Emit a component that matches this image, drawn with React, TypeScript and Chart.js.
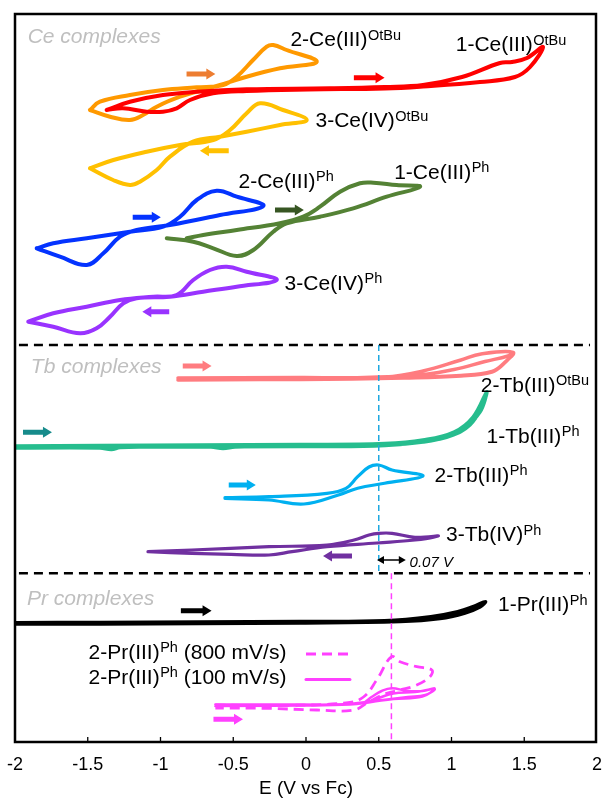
import React, { useEffect, useRef } from "react";
import { Chart, registerables } from "chart.js";
Chart.register(...registerables);

const FONT = '"Liberation Sans", Arial, Helvetica, sans-serif';

// x-axis tick values (E, V vs Fc)
const xTicks = [-2, -1.5, -1, -0.5, 0, 0.5, 1, 1.5, 2];

// Each curve: [E (V vs Fc), current + vertical offset (a.u.)]
type Pt = [number, number];

const ce1OtBu: Pt[] = [[-1.37,632],[-1.21,640.3],[-0.983,647],[-0.751,650.3],[-0.408,652.7],[0.165,653.7],[0.543,655],[0.804,657],[1.072,665],[1.333,679],[1.416,680],[1.519,684],[1.629,695],[1.54,675],[1.436,665],[1.196,660],[0.804,655.5],[0.543,653.5],[0.014,652.5],[-0.408,651],[-0.639,648.7],[-0.797,642],[-0.889,633.7],[-0.983,630.3],[-1.095,630.3],[-1.258,633.7],[-1.37,632]];
const ce2OtBu: Pt[] = [[-1.485,632],[-1.416,640.3],[-1.21,647],[-0.983,652],[-0.751,654.7],[-0.57,657],[-0.476,665.3],[-0.364,682],[-0.27,695.3],[-0.225,697],[-0.133,692],[0.074,680.3],[-0.179,673.7],[-0.408,665.3],[-0.591,657],[-0.866,645.3],[-1.026,635.3],[-1.12,627],[-1.21,622],[-1.347,625.3],[-1.485,632]];
const ce3OtBu: Pt[] = [[-1.485,573.7],[-1.324,582],[-1.095,590.3],[-0.866,597],[-0.637,602],[-0.522,612],[-0.408,628.7],[-0.316,638.7],[-0.158,632],[0.005,622],[-0.179,617],[-0.408,610.3],[-0.591,605.3],[-0.777,600.3],[-0.935,585.3],[-1.026,572],[-1.141,560.3],[-1.21,557],[-1.326,562],[-1.485,573.7]];
const ce2Ph: Pt[] = [[-1.851,493.7],[-1.737,498.7],[-1.507,503.7],[-1.21,510.3],[-0.981,515.3],[-0.866,525.3],[-0.751,542],[-0.614,551.3],[-0.476,545.3],[-0.293,536],[-0.591,527],[-0.935,517],[-1.164,512],[-1.278,505.3],[-1.393,488.7],[-1.507,477],[-1.691,485.3],[-1.851,493.7]];
const ce1Ph: Pt[] = [[-0.957,503.7],[-0.775,500.3],[-0.637,493.7],[-0.476,486],[-0.362,492],[-0.225,510.3],[-0.133,518.7],[0.096,525.3],[0.325,533.7],[0.555,545.3],[0.784,555.3],[0.623,557],[0.463,559.3],[0.371,558.7],[0.234,550.3],[0.096,535.3],[-0.019,525.3],[-0.179,518.7],[-0.476,512],[-0.706,507],[-0.82,503.7]];
const ce3Ph: Pt[] = [[-1.909,420.3],[-1.737,428.7],[-1.507,435.3],[-1.278,442],[-1.049,445.3],[-0.889,447],[-0.775,462],[-0.66,472],[-0.545,475.3],[-0.408,470.3],[-0.201,462],[-0.476,455.3],[-0.706,450.3],[-0.935,445.3],[-1.164,443.7],[-1.256,438.7],[-1.347,425.3],[-1.439,413.7],[-1.553,408.7],[-1.737,415.3],[-1.909,420.3]];
const tb2OtBu: Pt[] = [[-0.88,364],[-0.041,364.5],[0.543,365],[0.804,371],[1.065,382],[1.203,388],[1.423,389.5],[1.361,379],[1.278,370.5],[1.065,366.5],[0.674,364.5],[-0.041,363],[-0.88,362],[-0.041,363.5],[0.749,366.5],[1.017,372.5],[1.23,380.5],[1.388,386],[1.423,389],[1.361,378.5],[1.278,370],[1.065,366],[0.674,364],[-0.041,362.5],[-0.729,362.5]];
const tb1Ph: Pt[] = [[-2.0,296],[-1.416,296.5],[-0.729,297],[-0.041,297.5],[0.543,298.5],[0.804,302],[1.017,310],[1.148,325],[1.241,350],[1.216,337],[1.127,317],[0.99,306],[0.804,300],[0.543,297],[-0.041,296],[-0.488,295],[-0.57,293.5],[-0.653,295],[-1.072,295],[-1.278,294.5],[-1.337,292.5],[-1.416,294],[-2.0,294],[-1.416,295],[-0.041,296.5],[0.543,298],[0.852,302],[1.072,312],[1.182,329],[1.241,349],[1.196,330],[1.072,312],[0.921,303],[0.543,296.5],[-0.041,295.5],[-1.0,295]];
const tb2Ph: Pt[] = [[-0.557,244.3],[-0.254,245.3],[0.144,248.7],[0.275,253.7],[0.355,265.3],[0.433,275],[0.5,277],[0.591,272],[0.804,266],[0.54,258.7],[0.355,253.7],[0.223,247],[-0.014,238],[-0.254,242],[-0.557,243.7]];
const tb3Ph: Pt[] = [[-1.086,190.3],[-0.784,192],[-0.254,195.3],[0.144,197],[0.33,202],[0.433,207],[0.5,208.7],[0.591,208.7],[0.749,204.7],[0.911,206],[0.749,202],[0.488,199],[0.144,195.3],[-0.096,190.3],[-0.254,187],[-0.515,187.7],[-0.784,188.7],[-1.086,190.3]];
const pr1Ph: Pt[] = [[-1.997,119.3],[-1.416,119.5],[-0.729,120],[-0.041,120.5],[0.54,121.3],[0.858,125.3],[1.043,130.3],[1.148,135.3],[1.233,140.3],[1.196,135],[1.093,129],[0.921,123.5],[0.646,120.5],[-0.041,119],[-0.729,118.5],[-1.416,118],[-1.997,118]];
const pr2Ph800: Pt[] = [[-0.623,37],[-0.254,36.5],[0.275,39],[0.395,45],[0.486,62],[0.588,85.3],[0.646,80.3],[0.761,75.3],[0.865,72],[0.852,65.3],[0.761,57],[0.646,52],[0.555,48.7],[0.433,40.3],[0.33,32],[0.074,32],[-0.279,33.7],[-0.623,34]];
const pr2Ph100: Pt[] = [[-0.623,37.5],[-0.041,37.5],[0.381,38.5],[0.45,45],[0.52,51],[0.59,53.7],[0.70,51],[0.80,51],[0.884,53.5],[0.80,45.5],[0.60,43],[0.45,40],[0.30,37.5],[-0.041,36.5],[-0.623,36],[-0.041,37],[0.40,39],[0.50,44],[0.60,48.5],[0.75,50],[0.884,53],[0.82,47],[0.70,45],[0.50,41.5],[0.30,38]];

// reference lines and legend samples
const tbRefLine: Pt[] = [[0.5,397],[0.5,168.7]];
const prRefLine: Pt[] = [[0.587,168.7],[0.587,0]];
const sepTb: Pt[] = [[-1.973,397],[1.952,397]];
const sepPr: Pt[] = [[-1.973,168.7],[1.952,168.7]];
const legend800: Pt[] = [[0,88],[0.289,88]];
const legend100: Pt[] = [[0,62.5],[0.302,62.5]];

// scan-direction arrows: from (tail E) -> to (head E), at current y
const arrowFrom = [-0.821, 0.329, -0.531, -1.191, -0.213, -0.94, -0.847, -1.945, -0.531, 0.316, -0.86, -0.636];
const arrowTo   = [-0.623, 0.540, -0.729, -0.998, -0.015, -1.125, -0.649, -1.746, -0.345, 0.117, -0.649, -0.433];
const arrowY    = [668, 664.3, 591.3, 524.7, 532, 430.3, 376, 309.7, 257, 186, 131.3, 22.7];
const arrowColors = ["#ED7D31", "#FF0000", "#FFC000", "#0433FF", "#375623", "#9933FF", "#FF7C80", "#168B8B", "#00B0F0", "#7030A0", "#000000", "#FF40FF"];

// curve labels: main text, superscript, tail, left E, baseline y
const labelMain = ["2-Ce(III)", "1-Ce(III)", "3-Ce(IV)", "2-Ce(III)", "1-Ce(III)", "3-Ce(IV)", "2-Tb(III)", "1-Tb(III)", "2-Tb(III)", "3-Tb(IV)", "1-Pr(III)", "2-Pr(III)", "2-Pr(III)"];
const labelSup = ["OtBu", "OtBu", "OtBu", "Ph", "Ph", "Ph", "OtBu", "Ph", "Ph", "Ph", "Ph", "Ph", "Ph"];
const labelTail = ["", "", "", "", "", "", "", "", "", "", "", " (800 mV/s)", " (100 mV/s)"];
const labelX = [-0.107, 1.029, 0.065, -0.464, 0.606, -0.147, 1.201, 1.241, 0.884, 0.963, 1.32, -1.495, -1.495];
const labelY = [695.8, 690.8, 615, 554.2, 563.5, 452.5, 350.2, 299.2, 260.2, 200.8, 130.8, 83.5, 58.2];

const groupTitles = ["Ce complexes", "Tb complexes", "Pr complexes"];
const groupX = [-1.913, -1.891, -1.918];
const groupY = [699.5, 368.8, 137.2];

const deltaText = "0.07 V";
const deltaFrom = 0.488;
const deltaTo = 0.686;
const deltaY = 182;
const deltaTextX = 0.712;
const deltaTextY = 175.3;

const seriesStyle: { data: Pt[]; color: string; width: number; dash?: number[]; tension?: number }[] = [
  { data: tbRefLine, color: "#1FA8E0", width: 1.5, dash: [6, 4], tension: 0 },
  { data: prRefLine, color: "#FF40FF", width: 1.5, dash: [6, 4], tension: 0 },
  { data: ce1OtBu, color: "#FF0000", width: 4 },
  { data: ce2OtBu, color: "#FF9900", width: 4 },
  { data: ce3OtBu, color: "#FFC000", width: 4 },
  { data: ce2Ph, color: "#0433FF", width: 4 },
  { data: ce1Ph, color: "#548235", width: 4 },
  { data: ce3Ph, color: "#9933FF", width: 4 },
  { data: tb2OtBu, color: "#FF7C80", width: 3.5 },
  { data: tb1Ph, color: "#26BD8E", width: 3.5 },
  { data: tb2Ph, color: "#00B0F0", width: 3.2 },
  { data: tb3Ph, color: "#7030A0", width: 3.2 },
  { data: pr1Ph, color: "#000000", width: 3.5 },
  { data: pr2Ph100, color: "#FF40FF", width: 2.5 },
  { data: pr2Ph800, color: "#FF40FF", width: 2.8, dash: [10, 6] },
  { data: legend800, color: "#FF40FF", width: 3, dash: [10, 6], tension: 0 },
  { data: legend100, color: "#FF40FF", width: 3, tension: 0 },
  { data: sepTb, color: "#000000", width: 2.5, dash: [9, 6], tension: 0 },
  { data: sepPr, color: "#000000", width: 2.5, dash: [9, 6], tension: 0 },
];

function blockArrow(ctx: CanvasRenderingContext2D, from: number, to: number, y: number, color: string) {
  const dir = to > from ? 1 : -1;
  const hb = to - dir * 9;
  ctx.fillStyle = color;
  ctx.beginPath();
  ctx.moveTo(from, y - 2.5);
  ctx.lineTo(hb, y - 2.5);
  ctx.lineTo(hb, y - 5.5);
  ctx.lineTo(to, y);
  ctx.lineTo(hb, y + 5.5);
  ctx.lineTo(hb, y + 2.5);
  ctx.lineTo(from, y + 2.5);
  ctx.closePath();
  ctx.fill();
}

const decorPlugin = {
  id: "cvDecor",
  afterDraw(chart: any) {
    const { ctx, chartArea: a, scales } = chart;
    const px = (v: number) => scales.x.getPixelForValue(v);
    const py = (v: number) => scales.y.getPixelForValue(v);
    ctx.save();
    ctx.setLineDash([]);
    arrowFrom.forEach((f, i) => blockArrow(ctx, px(f), px(arrowTo[i]), py(arrowY[i]), arrowColors[i]));
    {
      const x1 = px(deltaFrom), x2 = px(deltaTo), y = py(deltaY);
      ctx.strokeStyle = "#000"; ctx.fillStyle = "#000"; ctx.lineWidth = 1.5;
      ctx.beginPath(); ctx.moveTo(x1 + 4, y); ctx.lineTo(x2 - 4, y); ctx.stroke();
      ctx.beginPath(); ctx.moveTo(x1, y); ctx.lineTo(x1 + 7, y - 4); ctx.lineTo(x1 + 7, y + 4); ctx.closePath(); ctx.fill();
      ctx.beginPath(); ctx.moveTo(x2, y); ctx.lineTo(x2 - 7, y - 4); ctx.lineTo(x2 - 7, y + 4); ctx.closePath(); ctx.fill();
      ctx.font = `italic 15px ${FONT}`;
      ctx.textAlign = "left"; ctx.textBaseline = "alphabetic";
      ctx.fillText(deltaText, px(deltaTextX), py(deltaTextY));
    }
    ctx.fillStyle = "#BFBFBF";
    ctx.font = `italic 21px ${FONT}`;
    ctx.textAlign = "left"; ctx.textBaseline = "alphabetic";
    groupTitles.forEach((t, i) => ctx.fillText(t, px(groupX[i]), py(groupY[i])));
    ctx.fillStyle = "#000";
    labelMain.forEach((m, i) => {
      const x = px(labelX[i]), y = py(labelY[i]);
      ctx.font = `21px ${FONT}`;
      ctx.fillText(m, x, y);
      const w1 = ctx.measureText(m).width;
      ctx.font = `14.5px ${FONT}`;
      ctx.fillText(labelSup[i], x + w1 + 0.5, y - 6.5);
      const w2 = ctx.measureText(labelSup[i]).width;
      if (labelTail[i]) {
        ctx.font = `21px ${FONT}`;
        ctx.fillText(labelTail[i], x + w1 + 0.5 + w2, y);
      }
    });
    ctx.strokeStyle = "#000";
    ctx.lineWidth = 2.5;
    ctx.strokeRect(a.left, a.top, a.right - a.left - 1, a.bottom - a.top);
    ctx.lineWidth = 1.3;
    xTicks.slice(1, -1).forEach((t) => {
      const x = px(t);
      ctx.beginPath(); ctx.moveTo(x, a.bottom); ctx.lineTo(x, a.bottom - 5); ctx.stroke();
    });
    ctx.restore();
  },
};

export default function App() {
  const ref = useRef<HTMLCanvasElement>(null);
  useEffect(() => {
    const chart = new Chart(ref.current as HTMLCanvasElement, {
      type: "line",
      data: {
        datasets: seriesStyle.map((s) => ({
          data: s.data.map(([x, y]) => ({ x, y })),
          borderColor: s.color,
          backgroundColor: s.color,
          borderWidth: s.width,
          borderDash: s.dash || [],
          tension: s.tension === undefined ? 0.4 : s.tension,
          pointRadius: 0,
          pointHoverRadius: 0,
          fill: false,
          borderJoinStyle: "round",
          borderCapStyle: s.dash ? "butt" : "round",
        })) as any,
      },
      options: {
        animation: false,
        responsive: false,
        devicePixelRatio: 1,
        layout: { padding: { left: 15, right: 6, top: 14, bottom: 0 } },
        plugins: { legend: { display: false }, tooltip: { enabled: false } },
        events: [],
        scales: {
          x: {
            type: "linear",
            min: -2,
            max: 2,
            afterBuildTicks: (s: any) => { s.ticks = xTicks.map((v) => ({ value: v })); },
            afterFit: (s: any) => { s.height = 56; s.paddingLeft = 0; s.paddingRight = 0; },
            ticks: {
              autoSkip: false,
              maxRotation: 0,
              padding: 14,
              color: "#000",
              font: { family: FONT, size: 18, lineHeight: 1 },
              callback: (v: any) => String(v),
            },
            grid: { display: false, drawTicks: false },
            border: { display: false },
            title: { display: true, text: "E (V vs Fc)", color: "#000", padding: 0, font: { family: FONT, size: 19, lineHeight: 1 } },
          },
          y: { type: "linear", display: false, min: 0, max: 728 },
        },
      } as any,
      plugins: [decorPlugin],
    });
    return () => chart.destroy();
  }, []);
  return (
    <div style={{ position: "absolute", left: 0, top: 0, width: 603, height: 798, background: "#fff" }}>
      <canvas ref={ref} width={603} height={798} style={{ width: 603, height: 798 }} />
    </div>
  );
}
